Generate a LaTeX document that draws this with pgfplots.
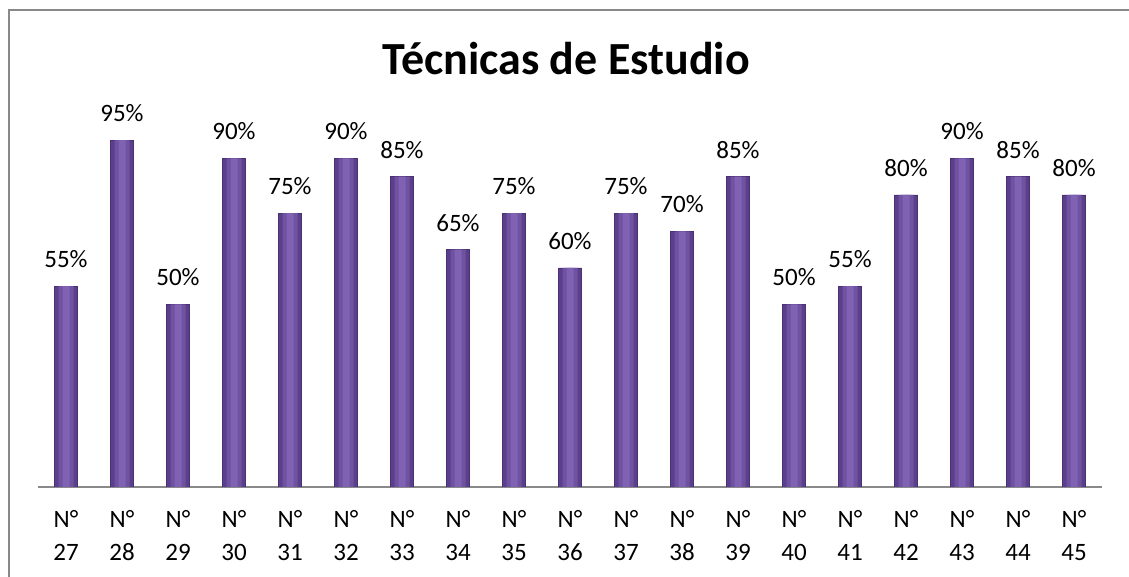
\documentclass[border=0pt]{standalone}
\usepackage{pgfplots}
\usepackage{pgfplotstable}
\pgfplotsset{compat=1.18}
\usepackage{fontspec}
\setmainfont{Carlito}
\definecolor{baredge}{HTML}{5B3F8B}
\definecolor{barin}{HTML}{6F52A2}
\definecolor{barmid}{HTML}{7F63B2}
\definecolor{barline}{HTML}{4A3272}
\definecolor{framegray}{HTML}{898989}

\pgfplotstableread{
x y
0 55
1 95
2 50
3 90
4 75
5 90
6 85
7 65
8 75
9 60
10 75
11 70
12 85
13 50
14 55
15 80
16 90
17 85
18 80
}\scores

\begin{document}
\begin{tikzpicture}
\clip (0,0) rectangle (564.5pt,288.5pt);
\fill[white] (0,0) rectangle (564.5pt,288.5pt);
\draw[framegray, line width=1pt] (4.5pt,283.5pt) rectangle (600pt,-20pt);
\node[font=\bfseries\fontsize{23}{28}\selectfont, anchor=base] at (283pt,251pt) {Técnicas de Estudio};
\begin{axis}[
  at={(19pt,45pt)}, anchor=south west,
  scale only axis, width=532pt, height=182.5pt,
  xmin=-0.5, xmax=18.5, ymin=0, ymax=100,
  axis x line=bottom, axis y line=none,
  x axis line style={-, draw=framegray, line width=1pt},
  xtick={0,...,18}, ytick=\empty,
  major tick length=0pt,
  xticklabels={N°\\27,N°\\28,N°\\29,N°\\30,N°\\31,N°\\32,N°\\33,N°\\34,N°\\35,N°\\36,N°\\37,N°\\38,N°\\39,N°\\40,N°\\41,N°\\42,N°\\43,N°\\44,N°\\45},
  xticklabel style={font=\fontsize{12.5}{16.7}\selectfont, align=center, yshift=-8pt},
  ybar, bar shift=0pt,
  /pgf/number format/assume math mode=true,
]
\addplot[draw=barline, line width=0.4pt, fill=baredge, bar width=11.5pt,
  nodes near coords={\pgfmathprintnumber{\pgfplotspointmeta}\%},
  nodes near coords style={font=\fontsize{12.5}{15}\selectfont, anchor=base, yshift=9.3pt, text=black}]
  table[x=x, y=y] {\scores};
\addplot[draw=none, fill=barin, bar width=7.5pt] table[x=x, y=y] {\scores};
\addplot[draw=none, fill=barmid, bar width=3.5pt] table[x=x, y=y] {\scores};
\end{axis}
\end{tikzpicture}
\end{document}
